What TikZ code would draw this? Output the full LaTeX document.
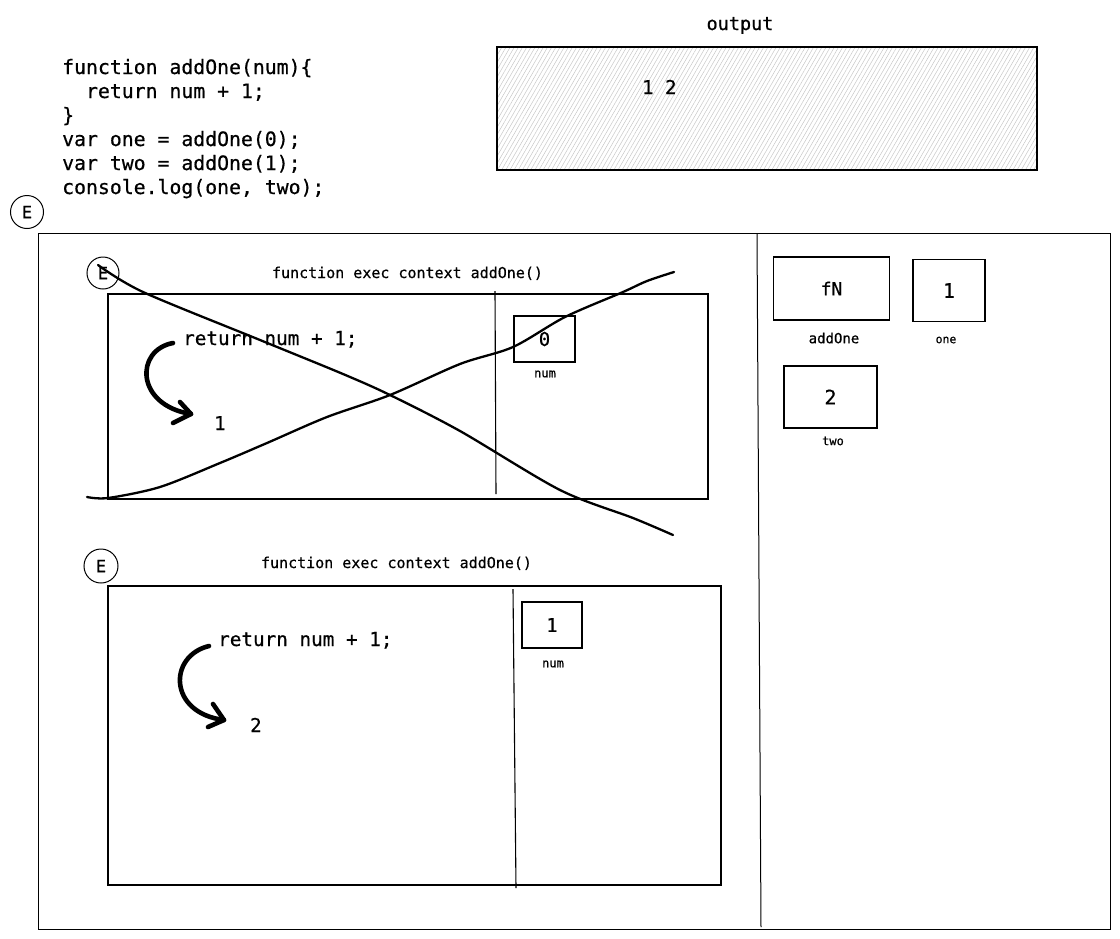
\documentclass[tikz,border=0pt]{standalone}
\usepackage{fontspec}
\setmonofont[FakeBold=0.6]{DejaVu Sans Mono}
\usetikzlibrary{patterns.meta}
\begin{document}
\begin{tikzpicture}[x=1pt,y=-1pt,
  code/.style={font=\ttfamily\fontsize{19.8}{24}\selectfont, anchor=base west, inner sep=0pt},
  title/.style={font=\ttfamily\fontsize{15}{18}\selectfont, anchor=base, inner sep=0pt},
  frame/.style={draw, line width=1.1pt},
  ebadge/.style={circle, draw, line width=1pt, minimum size=33pt, inner sep=0pt,
                 font=\ttfamily\fontsize{17}{20}\selectfont},
  valbox/.style={draw, line width=1.1pt, inner sep=0pt,
                 font=\ttfamily\fontsize{19}{22}\selectfont},
  varname/.style={font=\ttfamily\fontsize{12}{14}\selectfont, inner sep=0pt},
  strike/.style={line width=2.3pt, line cap=round, line join=round},
  flow/.style={line width=4.6pt, line cap=round, line join=round}
]
\useasboundingbox (0,0) rectangle (1120,938);

% source code
\node[code] (c1) at (62,74)  {function addOne(num)\{};
\node[code] (c2) at (62,98)  {\ \ return num + 1;};
\node[code] (c3) at (62,122) {\}};
\node[code] (c4) at (62,146) {var one = addOne(0);};
\node[code] (c5) at (62,170) {var two = addOne(1);};
\node[code] (c6) at (62,194) {console.log(one, two);};

% console output
\node[title, font=\ttfamily\fontsize{18.5}{22}\selectfont] (outlbl) at (740,30) {output};
\draw[line width=1.1pt, pattern={Lines[angle=60,distance=3.6pt,line width=0.5pt]},
      pattern color=black!22] (497,47) rectangle (1037,170);
\node[code, font=\ttfamily\fontsize{19}{22}\selectfont] (outval) at (642,94) {1 2};

% global execution context
\node[ebadge] (eg) at (27,212) {E};
\draw[line width=1pt] (38,233) rectangle (1110,929);
\draw[line width=1pt] (757,233) -- (761,927);

% global memory
\node[valbox, minimum width=116pt, minimum height=63pt, font=\ttfamily\fontsize{18}{22}\selectfont] (mfn) at (831.5,288.5) {fN};
\node[varname, font=\ttfamily\fontsize{14}{16}\selectfont] (lfn) at (834,338) {addOne};
\node[valbox, minimum width=72pt, minimum height=62pt, font=\ttfamily\fontsize{20}{22}\selectfont] (mone) at (949,290.5) {1};
\node[varname, font=\ttfamily\fontsize{11.5}{14}\selectfont] (lone) at (946,340) {one};
\node[valbox, minimum width=93pt, minimum height=62pt, font=\ttfamily\fontsize{20}{22}\selectfont] (mtwo) at (830.5,397) {2};
\node[varname] (ltwo) at (833,441) {two};

% first call: addOne(0)
\node[ebadge, minimum size=32pt] (e1) at (103,273) {E};
\node[title] (t1) at (407.5,278) {function exec context addOne()};
\draw[frame] (108,294) rectangle (708,499);
\draw[frame] (495,291) -- (496,494);
\node[code, font=\ttfamily\fontsize{19.3}{22}\selectfont] (r1) at (183,345) {return num + 1;};
\node[code, font=\ttfamily\fontsize{19}{22}\selectfont] (v1) at (214,430) {1};
\node[valbox, minimum width=61pt, minimum height=46pt] (n1) at (544.5,339) {0};
\node[varname] (ln1) at (545,374) {num};
\coordinate (a1s) at (173,343);
\coordinate (a1e) at (191,414);
\draw[flow] (a1s) .. controls (135,350) and (135,405) .. (a1e);
\draw[flow] (180,402) -- (a1e) -- (173,423);

% strike-through of the finished call
\draw[strike] plot[smooth, tension=0.5] coordinates {
  (98,265) (143,292) (260,340) (343,374) (390,395) (460,431) (560,490) (633,518) (673,535)};
\draw[strike] plot[smooth, tension=0.5] coordinates {
  (87,497) (108,498) (160,487) (220,463) (267,443) (327,417) (390,395) (460,364)
  (513,347) (565,317) (623,292) (647,281) (674,272)};

% second call: addOne(1)
\node[ebadge, minimum size=34pt] (e2) at (101,566) {E};
\node[title] (t2) at (396.5,568) {function exec context addOne()};
\draw[frame] (108,586) rectangle (721,885);
\draw[frame] (513,589) -- (516,888);
\node[code, font=\ttfamily\fontsize{19.3}{22}\selectfont] (r2) at (218,646) {return num + 1;};
\node[code, font=\ttfamily\fontsize{19}{22}\selectfont] (v2) at (250,732) {2};
\node[valbox, minimum width=60pt, minimum height=46pt] (n2) at (552,625) {1};
\node[varname] (ln2) at (553,664) {num};
\coordinate (a2s) at (209,646);
\coordinate (a2e) at (224,720);
\draw[flow] (a2s) .. controls (168,656) and (168,713) .. (a2e);
\draw[flow] (213,704) -- (a2e) -- (208,727);

\end{tikzpicture}
\end{document}
